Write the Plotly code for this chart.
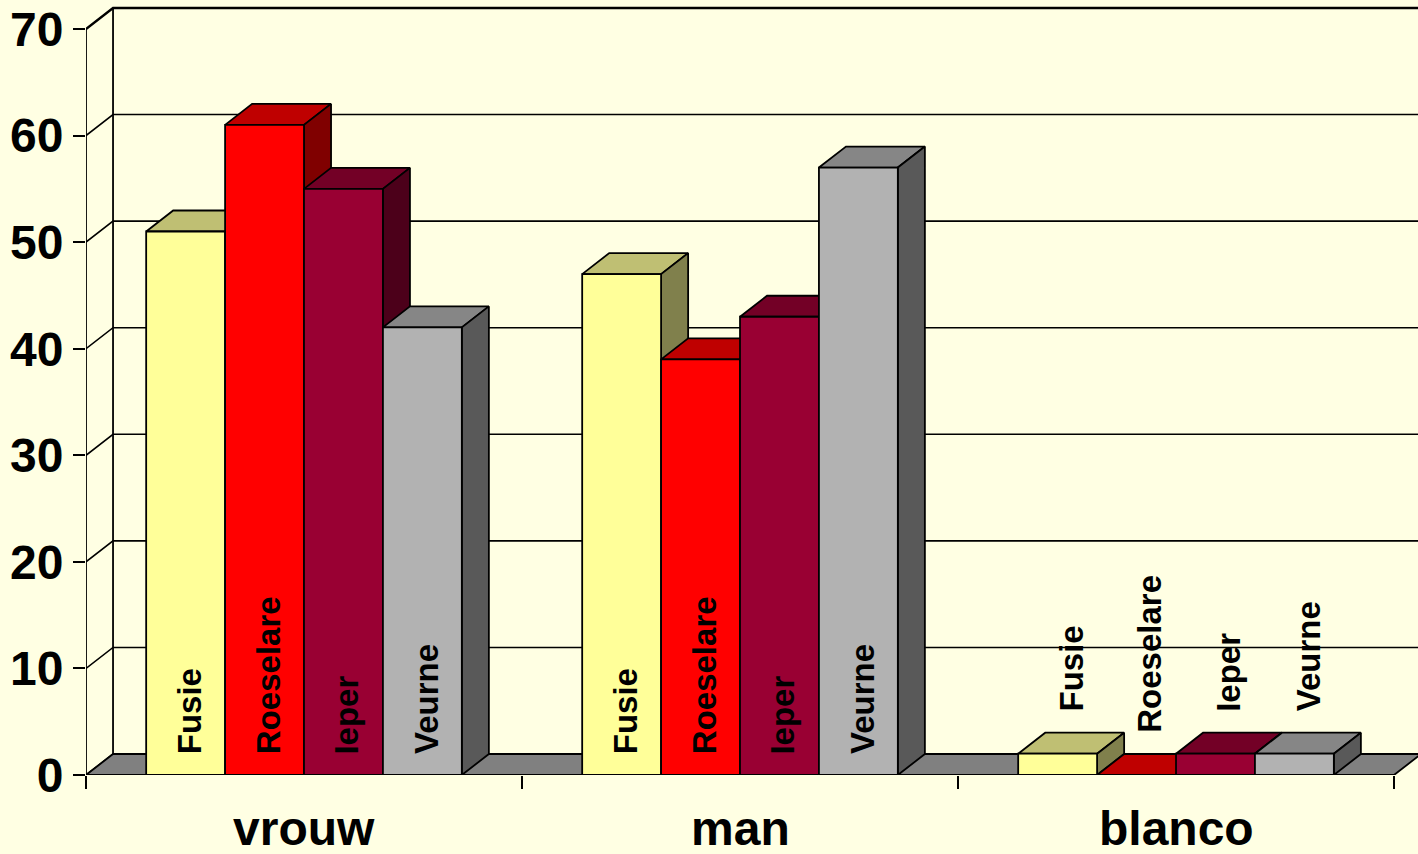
import plotly.graph_objects as go

categories = ["vrouw", "man", "blanco"]
series = ["Fusie", "Roeselare", "Ieper", "Veurne"]
fusie = [51, 47, 2]
roeselare = [61, 39, 0]
ieper = [55, 43, 2]
veurne = [42, 57, 2]
y_ticks = [0, 10, 20, 30, 40, 50, 60, 70]

values = [fusie, roeselare, ieper, veurne]
front_col = ["#FFFF99", "#FF0000", "#990033", "#B2B2B2"]
top_col = ["#BFBF73", "#BF0000", "#730026", "#868686"]
side_col = ["#80804C", "#800000", "#4C001A", "#595959"]

BG = "#FFFFE3"
FONT = "Liberation Sans"
DX, DY = 0.062, 1.97      # 3D depth offset (category units, value units)
W = 0.181                 # bar width in category units
XMIN, XMAX = -0.5, 2.555
YMAX = 72.72
LW = 1.8

fig = go.Figure()

# back wall grid: diagonal from the axis, then horizontal on the wall
gx, gy = [], []
for v in y_ticks[:-1]:
    gx += [XMIN, XMIN + DX, XMAX + 0.1, None]
    gy += [v, v + DY, v + DY, None]
fig.add_trace(go.Scatter(x=gx, y=gy, mode="lines", line=dict(color="black", width=1.6)))
v = y_ticks[-1]
fig.add_trace(go.Scatter(x=[XMIN, XMIN + DX, XMAX + 0.1], y=[v, v + DY, v + DY],
                         mode="lines", line=dict(color="black", width=2.4)))
# y axis line and left edge of the back wall
fig.add_trace(go.Scatter(x=[XMIN, XMIN, None, XMIN + DX, XMIN + DX],
                         y=[0, y_ticks[-1], None, DY, y_ticks[-1] + DY],
                         mode="lines", line=dict(color="black", width=LW)))
# floor
xr = len(categories) - 0.5
fig.add_trace(go.Scatter(x=[XMIN, xr, xr + DX, XMIN + DX, XMIN],
                         y=[0, 0, DY, DY, 0], mode="lines", fill="toself",
                         fillcolor="#808080", line=dict(color="black", width=LW)))

# top and side faces
for i in range(len(categories)):
    for j in range(len(series)):
        val = values[j][i]
        c = i + (j - 1.5) * W
        x0, x1 = c - W / 2, c + W / 2
        fig.add_trace(go.Scatter(x=[x0, x1, x1 + DX, x0 + DX, x0],
                                 y=[val, val, val + DY, val + DY, val],
                                 mode="lines", fill="toself", fillcolor=top_col[j],
                                 line=dict(color="black", width=LW)))
        fig.add_trace(go.Scatter(x=[x1, x1 + DX, x1 + DX, x1, x1],
                                 y=[0, DY, val + DY, val, 0],
                                 mode="lines", fill="toself", fillcolor=side_col[j],
                                 line=dict(color="black", width=LW)))

# front faces on an overlaid subplot so they sit above the faces behind
for j, name in enumerate(series):
    fig.add_trace(go.Bar(x=[i + (j - 1.5) * W for i in range(len(categories))],
                         y=values[j], width=W, name=name,
                         marker=dict(color=front_col[j], line=dict(color="black", width=LW)),
                         xaxis="x2", yaxis="y2"))

# series labels
for i in range(len(categories)):
    for j, name in enumerate(series):
        val = values[j][i]
        c = i + (j - 1.5) * W
        if val > 20:
            ax, ay = c + 0.008, DY - 0.2
        else:
            ax, ay = c + DX / 2, val + DY / 2 + 2.8
        fig.add_annotation(x=ax, y=ay, xref="x", yref="y", text=name, textangle=-90,
                           showarrow=False, xanchor="center", yanchor="bottom",
                           font=dict(family=FONT, size=33, color="black", weight="bold"))

for i, cat in enumerate(categories):
    fig.add_annotation(x=i, y=-0.069, xref="x", yref="paper", text=cat, showarrow=False,
                       xanchor="center", yanchor="middle",
                       font=dict(family=FONT, size=48, color="black", weight="bold"))

axis_common = dict(showgrid=False, zeroline=False, automargin=False)
fig.update_layout(
    width=1418, height=854,
    margin=dict(l=86, r=0, t=0, b=79),
    paper_bgcolor=BG, plot_bgcolor=BG,
    showlegend=False, hovermode=False, barmode="overlay",
    xaxis=dict(range=[XMIN, XMAX], tickvals=[k - 0.5 for k in range(len(categories) + 1)],
               ticks="outside", ticklen=13, tickwidth=LW, tickcolor="black",
               showticklabels=False, showline=False, **axis_common),
    yaxis=dict(range=[0, YMAX], tickvals=y_ticks, ticks="outside", ticklen=12,
               tickwidth=LW, tickcolor="black", showline=False,
               tickfont=dict(family=FONT, size=48, color="black", weight="bold"),
               **axis_common),
    xaxis2=dict(range=[XMIN, XMAX], overlaying="x", visible=False, **axis_common),
    yaxis2=dict(range=[0, YMAX], overlaying="y", visible=False, **axis_common),
)

fig.write_html("out.html", config={"displayModeBar": False},
               post_script="document.body.style.margin='0';"
                           "document.body.style.background='" + BG + "';")
